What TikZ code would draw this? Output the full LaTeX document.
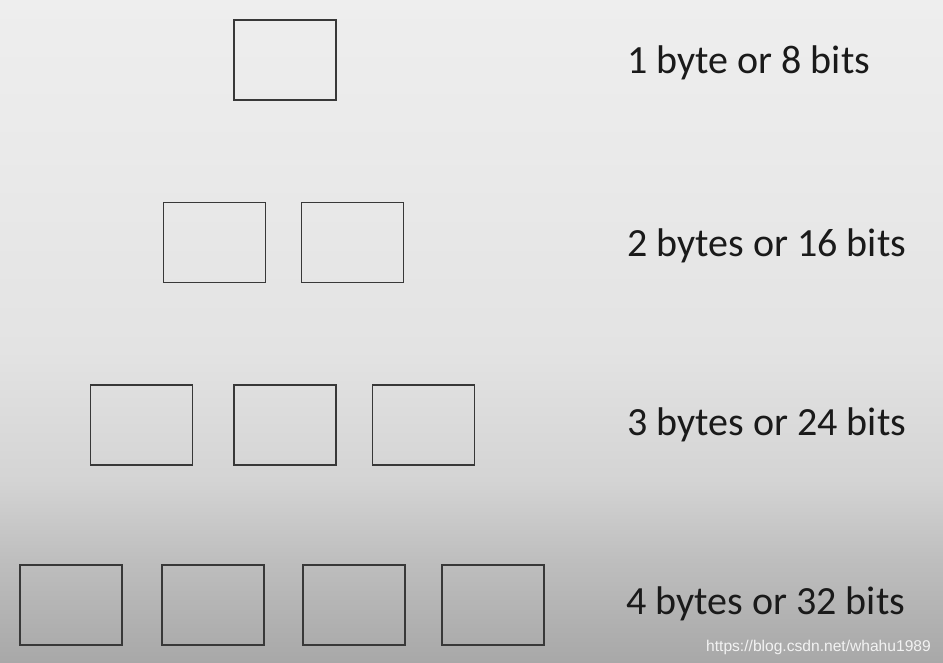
\documentclass[tikz,border=0pt]{standalone}
\usepackage{fontspec}
\setmainfont{Carlito}
\newfontfamily\wmfont{Liberation Sans}
\definecolor{bgA}{HTML}{EEEEEE}
\definecolor{bgB}{HTML}{EAEAEA}
\definecolor{bgC}{HTML}{E3E3E3}
\definecolor{bgD}{HTML}{D4D4D4}
\definecolor{bgE}{HTML}{BEBEBE}
\definecolor{bgF}{HTML}{A8A8A8}
\definecolor{boxline}{HTML}{383838}
\definecolor{labeltext}{HTML}{1A1A1A}
\begin{document}
\begin{tikzpicture}[x=1pt,y=-1pt,
  bytebox/.style={draw=boxline,line width=1.6pt,rectangle,inner sep=0pt,minimum width=102pt,minimum height=80pt},
  sizelabel/.style={anchor=base west,inner sep=0pt,font=\fontsize{40}{46}\selectfont,text=labeltext},
  watermark/.style={anchor=base east,inner sep=0pt,font=\wmfont\fontsize{15.6}{18}\selectfont,text=white,opacity=0.85}]
\useasboundingbox (0,0) rectangle (943,663);
% background gradient
\shade[top color=bgA,bottom color=bgB] (0,0) rectangle (943,150.5);
\shade[top color=bgB,bottom color=bgC] (0,150) rectangle (943,350.5);
\shade[top color=bgC,bottom color=bgD] (0,350) rectangle (943,480.5);
\shade[top color=bgD,bottom color=bgE] (0,480) rectangle (943,560.5);
\shade[top color=bgE,bottom color=bgF] (0,560) rectangle (943,663);
% row 1
\node[bytebox] (r1a) at (285,60) {};
\node[sizelabel] (l1) at (627,74) {1 byte or 8 bits};
% row 2
\node[bytebox] (r2a) at (214.5,242.5) {};
\node[bytebox] (r2b) at (352.5,242.5) {};
\node[sizelabel] (l2) at (627,257) {2 bytes or 16 bits};
% row 3
\node[bytebox] (r3a) at (141.5,425) {};
\node[bytebox] (r3b) at (285,425) {};
\node[bytebox] (r3c) at (423.5,425) {};
\node[sizelabel] (l3) at (627,435) {3 bytes or 24 bits};
% row 4
\node[bytebox] (r4a) at (71,605) {};
\node[bytebox] (r4b) at (213,605) {};
\node[bytebox] (r4c) at (354,605) {};
\node[bytebox] (r4d) at (493,605) {};
\node[sizelabel] (l4) at (626,614) {4 bytes or 32 bits};
% watermark
\node[watermark] (wm) at (931,651) {https://blog.csdn.net/whahu1989};
\end{tikzpicture}
\end{document}
